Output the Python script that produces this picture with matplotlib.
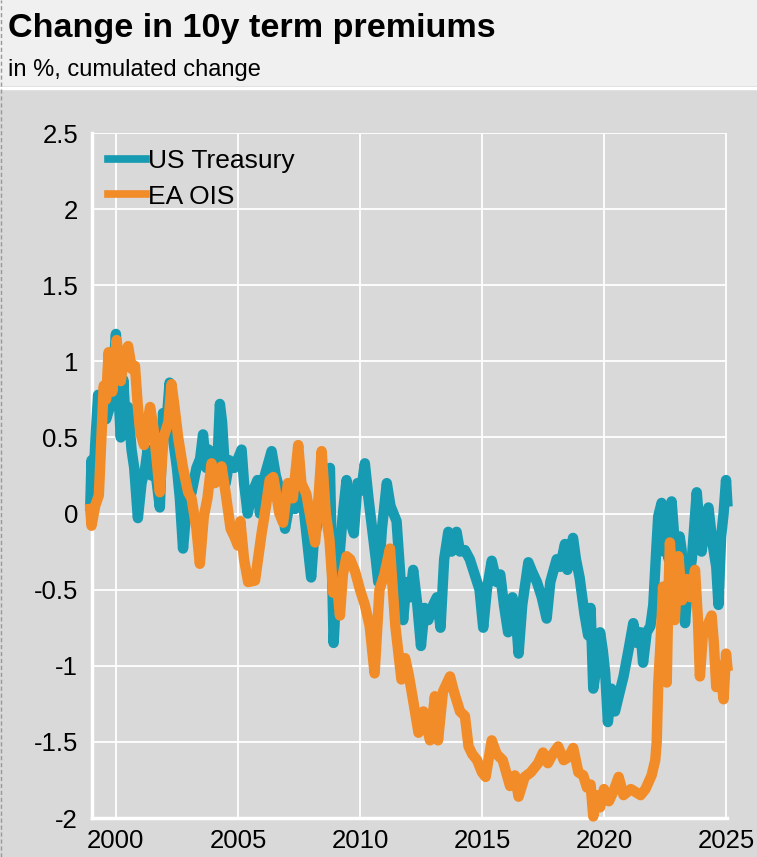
import matplotlib
matplotlib.use("Agg")
import matplotlib.pyplot as plt
from matplotlib.patches import Rectangle
from matplotlib.lines import Line2D

plt.rcParams['font.family'] = ['Liberation Sans', 'DejaVu Sans']

# US Treasury 10y term premium, cumulated change
us_years = [1998.95, 1999.0, 1999.08, 1999.15, 1999.27, 1999.35, 1999.5, 1999.6, 1999.75, 1999.9,
            2000.0, 2000.1, 2000.2, 2000.3, 2000.4, 2000.5, 2000.64, 2000.75, 2000.9, 2001.05,
            2001.2, 2001.3, 2001.45, 2001.6, 2001.8, 2001.93, 2002.05, 2002.2, 2002.35, 2002.5,
            2002.62, 2002.75, 2002.9, 2003.1, 2003.3, 2003.45, 2003.57, 2003.7, 2003.8, 2003.9,
            2004.05, 2004.15, 2004.26, 2004.35, 2004.5, 2004.65, 2004.85, 2005.15, 2005.25, 2005.4,
            2005.55, 2005.8, 2005.9, 2006.1, 2006.38, 2006.55, 2006.8, 2006.93, 2007.1, 2007.34,
            2007.6, 2007.75, 2008.0, 2008.1, 2008.3, 2008.5, 2008.77, 2008.85, 2008.92, 2009.0,
            2009.15, 2009.3, 2009.45, 2009.6, 2009.75, 2009.9, 2010.05, 2010.2, 2010.35, 2010.5,
            2010.65, 2010.75, 2010.9, 2011.1, 2011.25, 2011.5, 2011.65, 2011.77, 2011.9, 2012.05,
            2012.18, 2012.35, 2012.5, 2012.65, 2012.8, 2013.0, 2013.15, 2013.3, 2013.45, 2013.62,
            2013.75, 2013.96, 2014.1, 2014.3, 2014.5, 2014.7, 2014.9, 2015.05, 2015.2, 2015.4,
            2015.6, 2015.75, 2015.9, 2016.07, 2016.25, 2016.4, 2016.5, 2016.65, 2016.9, 2017.05,
            2017.25, 2017.45, 2017.65, 2017.8, 2018.06, 2018.2, 2018.4, 2018.5, 2018.73, 2018.85,
            2019.0, 2019.2, 2019.35, 2019.45, 2019.56, 2019.7, 2019.84, 2019.95, 2020.05, 2020.16,
            2020.3, 2020.45, 2020.6, 2020.8, 2021.0, 2021.2, 2021.35, 2021.5, 2021.6, 2021.75,
            2021.9, 2022.02, 2022.12, 2022.22, 2022.36, 2022.45, 2022.55, 2022.65, 2022.77, 2022.9,
            2023.0, 2023.1, 2023.18, 2023.32, 2023.45, 2023.6, 2023.8, 2023.92, 2024.0, 2024.15,
            2024.28, 2024.45, 2024.6, 2024.69, 2024.8, 2024.9, 2025.0, 2025.05]
us_values = [0.05, 0.35, 0.2, 0.45, 0.78, 0.6, 0.75, 0.62, 0.7, 0.95,
             1.18, 0.8, 0.5, 0.88, 0.6, 0.7, 0.42, 0.3, -0.03, 0.2,
             0.3, 0.42, 0.25, 0.3, 0.04, 0.66, 0.55, 0.86, 0.48, 0.3,
             0.1, -0.23, 0.05, 0.14, 0.3, 0.36, 0.52, 0.3, 0.42, 0.35,
             0.4, 0.3, 0.72, 0.6, 0.2, 0.35, 0.3, 0.42, 0.2, 0.0,
             0.12, 0.22, 0.0, 0.25, 0.41, 0.25, 0.1, -0.1, 0.05, 0.03,
             0.18, -0.05, -0.42, -0.2, -0.03, 0.1, 0.3, -0.3, -0.85, -0.6,
             -0.3, 0.0, 0.22, -0.05, -0.13, 0.2, 0.15, 0.33, 0.1, -0.1,
             -0.3, -0.45, -0.1, 0.2, 0.05, -0.05, -0.4, -0.7, -0.45, -0.55,
             -0.37, -0.6, -0.87, -0.62, -0.7, -0.6, -0.55, -0.75, -0.3, -0.12,
             -0.25, -0.12, -0.25, -0.24, -0.3, -0.4, -0.5, -0.75, -0.5, -0.31,
             -0.45, -0.4, -0.6, -0.78, -0.55, -0.7, -0.92, -0.6, -0.32, -0.38,
             -0.45, -0.55, -0.69, -0.45, -0.3, -0.35, -0.2, -0.37, -0.16, -0.3,
             -0.42, -0.66, -0.8, -0.62, -1.15, -1.0, -0.78, -0.9, -1.05, -1.37,
             -1.15, -1.3, -1.2, -1.07, -0.9, -0.72, -0.85, -0.78, -0.98, -0.78,
             -0.74, -0.6, -0.3, -0.02, 0.07, -0.25, -0.05, -0.3, 0.08, -0.2,
             -0.37, -0.15, -0.24, -0.72, -0.45, -0.3, 0.14, -0.1, -0.25, -0.05,
             0.04, -0.2, -0.35, -0.6, -0.15, 0.0, 0.22, 0.08]

# EA OIS 10y term premium, cumulated change
ea_years = [1998.95, 1999.0, 1999.15, 1999.3, 1999.5, 1999.6, 1999.7, 1999.85, 2000.03, 2000.2,
            2000.35, 2000.5, 2000.65, 2000.78, 2000.9, 2001.0, 2001.15, 2001.4, 2001.55, 2001.7,
            2001.8, 2001.95, 2002.15, 2002.28, 2002.4, 2002.55, 2002.75, 2002.96, 2003.1, 2003.3,
            2003.44, 2003.6, 2003.75, 2003.92, 2004.06, 2004.33, 2004.5, 2004.7, 2004.85, 2005.0,
            2005.1, 2005.25, 2005.42, 2005.7, 2005.97, 2006.15, 2006.3, 2006.45, 2006.7, 2006.85,
            2007.05, 2007.25, 2007.47, 2007.6, 2007.8, 2008.0, 2008.16, 2008.3, 2008.43, 2008.6,
            2008.75, 2008.9, 2009.05, 2009.18, 2009.3, 2009.45, 2009.6, 2009.8, 2010.0, 2010.2,
            2010.4, 2010.6, 2010.8, 2011.0, 2011.23, 2011.45, 2011.7, 2011.85, 2012.0, 2012.15,
            2012.4, 2012.6, 2012.87, 2013.07, 2013.2, 2013.4, 2013.69, 2013.85, 2014.1, 2014.3,
            2014.45, 2014.6, 2014.8, 2015.0, 2015.15, 2015.4, 2015.6, 2015.85, 2016.15, 2016.35,
            2016.5, 2016.75, 2017.0, 2017.3, 2017.5, 2017.7, 2017.9, 2018.12, 2018.35, 2018.55,
            2018.74, 2018.95, 2019.15, 2019.3, 2019.45, 2019.56, 2019.7, 2019.84, 2020.0, 2020.2,
            2020.4, 2020.6, 2020.8, 2021.1, 2021.5, 2021.7, 2021.95, 2022.1, 2022.16, 2022.22,
            2022.3, 2022.36, 2022.42, 2022.5, 2022.57, 2022.63, 2022.7, 2022.8, 2022.9, 2023.05,
            2023.2, 2023.4, 2023.55, 2023.73, 2023.85, 2023.93, 2024.05, 2024.2, 2024.41, 2024.5,
            2024.6, 2024.75, 2024.9, 2025.0, 2025.05]
ea_values = [0.03, -0.08, 0.05, 0.12, 0.84, 0.75, 1.06, 0.8, 1.14, 0.87,
             1.05, 1.1, 0.95, 0.97, 0.7, 0.53, 0.45, 0.7, 0.55, 0.3,
             0.14, 0.5, 0.6, 0.85, 0.7, 0.5, 0.3, 0.14, 0.1, -0.1,
             -0.33, -0.02, 0.1, 0.33, 0.2, 0.31, 0.13, -0.1, -0.15, -0.21,
             -0.05, -0.3, -0.45, -0.44, -0.13, 0.05, 0.22, 0.24, 0.0, -0.06,
             0.2, 0.1, 0.45, 0.2, 0.13, -0.05, -0.19, 0.1, 0.41, 0.0,
             -0.17, -0.52, -0.45, -0.67, -0.4, -0.28, -0.3, -0.38, -0.5, -0.6,
             -0.74, -1.05, -0.5, -0.4, -0.23, -0.74, -1.09, -0.95, -1.06, -1.2,
             -1.44, -1.3, -1.49, -1.2, -1.49, -1.17, -1.07, -1.17, -1.3, -1.33,
             -1.53, -1.58, -1.62, -1.7, -1.73, -1.49, -1.58, -1.62, -1.79, -1.72,
             -1.86, -1.73, -1.7, -1.64, -1.57, -1.64, -1.58, -1.53, -1.62, -1.6,
             -1.54, -1.7, -1.72, -1.8, -1.78, -1.99, -1.85, -1.93, -1.81, -1.89,
             -1.82, -1.73, -1.85, -1.81, -1.85, -1.81, -1.72, -1.62, -1.5, -1.13,
             -0.9, -0.7, -0.48, -0.9, -1.11, -0.6, -0.19, -0.45, -0.7, -0.28,
             -0.57, -0.43, -0.55, -0.37, -0.7, -1.07, -0.8, -0.75, -0.67, -0.85,
             -1.14, -1.0, -1.22, -0.92, -1.0]

year_ticks = [2000, 2005, 2010, 2015, 2020, 2025]
value_ticks = [2.5, 2, 1.5, 1, 0.5, 0, -0.5, -1, -1.5, -2]
value_labels = ['2.5', '2', '1.5', '1', '0.5', '0', '-0.5', '-1', '-1.5', '-2']

teal = '#179bb2'
orange = '#f28c28'
panel = '#d9d9d9'

W, H = 757, 857
fig = plt.figure(figsize=(W / 100, H / 100), dpi=100, facecolor=panel)

# header band + white separator
fig.patches.append(Rectangle((0, 1 - 86 / H), 1, 86 / H, transform=fig.transFigure,
                             facecolor='#f0f0f0', edgecolor='none', zorder=0))
fig.lines.append(Line2D([0, 1], [1 - 88 / H, 1 - 88 / H], transform=fig.transFigure,
                        color='white', lw=2.5))
fig.lines.append(Line2D([0.001, 0.001], [0, 1], transform=fig.transFigure,
                        color='#999999', lw=1, ls=(0, (3, 2))))

fig.text(8 / W, 1 - 37 / H, 'Change in 10y term premiums', fontsize=24.6, fontweight='bold',
         ha='left', va='baseline')
fig.text(8 / W, 1 - 76 / H, 'in %, cumulated change', fontsize=17, ha='left', va='baseline')

ax = fig.add_axes([92 / W, 1 - 818 / H, (727 - 92) / W, (818 - 133) / H])
ax.set_facecolor(panel)

ax.plot(us_years, us_values, color=teal, lw=7.5, label='US Treasury', clip_on=False,
        solid_joinstyle='round', zorder=3)
ax.plot(ea_years, ea_values, color=orange, lw=7.5, label='EA OIS', clip_on=False,
        solid_joinstyle='round', zorder=4)

ax.set_xlim(1999.02, 2025.04)
ax.set_ylim(-2, 2.5)
ax.set_xticks(year_ticks)
ax.set_xticklabels([str(y) for y in year_ticks])
ax.set_yticks(value_ticks)
ax.set_yticklabels(value_labels)
ax.tick_params(length=0, labelsize=18.5, colors='black')
ax.tick_params(axis='y', pad=10)
ax.tick_params(axis='x', pad=8)
ax.grid(True, color='white', lw=1.3)
ax.set_axisbelow(True)
for side in ['top', 'right']:
    ax.spines[side].set_visible(False)
for side in ['left', 'bottom']:
    ax.spines[side].set_color('white')
    ax.spines[side].set_linewidth(2.5)

leg = ax.legend(loc='upper left', bbox_to_anchor=(0.0, 1.0), frameon=False, fontsize=19,
                handlelength=1.45, handletextpad=0.08, labelspacing=0.45, borderaxespad=0.2)
for h in leg.get_lines():
    h.set_linewidth(5.5)

fig.savefig('out.png', dpi=100, facecolor=fig.get_facecolor())
